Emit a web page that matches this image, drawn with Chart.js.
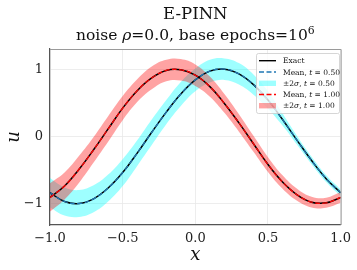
<!DOCTYPE html>
<html>
<head>
<meta charset="utf-8">
<script src="https://cdn.jsdelivr.net/npm/chart.js@4.4.0/dist/chart.umd.min.js"></script>
<style>
  html, body { margin: 0; padding: 0; background: #fff; }
</style>
</head>
<body>
<canvas id="c" width="357" height="270"></canvas>
<script>
// values
const xs = [-1.0, -0.9, -0.8, -0.7, -0.6, -0.5, -0.4, -0.3, -0.2, -0.1, 0.0,
            0.1, 0.2, 0.3, 0.4, 0.5, 0.6, 0.7, 0.8, 0.9, 1.0];
const exactT05 = [-0.84, -0.97, -1.00, -0.93, -0.77, -0.54, -0.25, 0.06, 0.36, 0.63, 0.84,
                  0.97, 1.00, 0.93, 0.77, 0.54, 0.25, -0.06, -0.36, -0.63, -0.84];
const exactT10 = [-0.91, -0.74, -0.49, -0.20, 0.11, 0.42, 0.68, 0.87, 0.98, 0.99, 0.91,
                  0.74, 0.49, 0.20, -0.11, -0.42, -0.68, -0.87, -0.98, -0.99, -0.91];
// predicted means sit right on the exact curves
const meanT05 = exactT05.slice();
const meanT10 = exactT10.slice();
// half width of the +-2 sigma bands
const twoSigmaT05 = [0.22, 0.21, 0.20, 0.20, 0.20, 0.20, 0.19, 0.19, 0.18, 0.18, 0.17,
                     0.17, 0.16, 0.16, 0.15, 0.13, 0.09, 0.065, 0.055, 0.05, 0.05];
const twoSigmaT10 = [0.21, 0.20, 0.20, 0.19, 0.19, 0.18, 0.17, 0.17, 0.16, 0.16, 0.16,
                     0.15, 0.14, 0.13, 0.12, 0.11, 0.10, 0.09, 0.08, 0.075, 0.08];
const xTicks = [-1, -0.5, 0, 0.5, 1];
const yTicks = [-1, 0, 1];

const SERIF = '"DejaVu Serif", "Liberation Serif", serif';
const CYAN_FILL = 'rgba(0,255,255,0.38)';
const RED_FILL = 'rgba(255,0,0,0.36)';
const BLUE = '#1f77b4';

const pts = (ys) => xs.map((x, i) => ({ x: x, y: ys[i] }));
const band = (m, s, sign) => xs.map((x, i) => ({ x: x, y: m[i] + sign * s[i] }));
const minus = (s) => s.replace('-', '\u2212');

const base = { pointRadius: 0, tension: 0.4, fill: false };

const datasets = [
  Object.assign({}, base, { label: 'lo05', data: band(meanT05, twoSigmaT05, -1), borderWidth: 0, borderColor: 'transparent', order: 10 }),
  Object.assign({}, base, { label: 'hi05', data: band(meanT05, twoSigmaT05, 1), borderWidth: 0, borderColor: 'transparent', backgroundColor: CYAN_FILL, fill: '-1', order: 9 }),
  Object.assign({}, base, { label: 'lo10', data: band(meanT10, twoSigmaT10, -1), borderWidth: 0, borderColor: 'transparent', order: 8 }),
  Object.assign({}, base, { label: 'hi10', data: band(meanT10, twoSigmaT10, 1), borderWidth: 0, borderColor: 'transparent', backgroundColor: RED_FILL, fill: '-1', order: 7 }),
  Object.assign({}, base, { label: 'ex05', data: pts(exactT05), borderColor: '#000', borderWidth: 1.5, order: 6 }),
  Object.assign({}, base, { label: 'ex10', data: pts(exactT10), borderColor: '#000', borderWidth: 1.5, order: 5 }),
  Object.assign({}, base, { label: 'mean05', data: pts(meanT05), borderColor: BLUE, borderWidth: 1.3, borderDash: [5, 2.5], order: 4 }),
  Object.assign({}, base, { label: 'mean10', data: pts(meanT10), borderColor: 'red', borderWidth: 1.3, borderDash: [5, 2.5], order: 3 })
];

// draws a run of [text, italic, sizeScale, dy] pieces
function richText(ctx, parts, x, y, size, align) {
  let total = 0;
  parts.forEach(p => {
    ctx.font = (p[1] ? 'italic ' : '') + (size * (p[2] || 1)) + 'px ' + SERIF;
    total += ctx.measureText(p[0]).width;
  });
  let cx = align === 'center' ? x - total / 2 : x;
  parts.forEach(p => {
    ctx.font = (p[1] ? 'italic ' : '') + (size * (p[2] || 1)) + 'px ' + SERIF;
    ctx.fillText(p[0], cx, y + (p[3] || 0));
    cx += ctx.measureText(p[0]).width;
  });
}

const decor = {
  id: 'decor',
  afterDraw(chart) {
    const ctx = chart.ctx;
    const a = chart.chartArea;
    const cx = (a.left + a.right) / 2;
    ctx.save();
    // top + right spines
    ctx.strokeStyle = '#9a9a9a';
    ctx.lineWidth = 1;
    ctx.beginPath();
    ctx.moveTo(a.left, a.top + 0.5);
    ctx.lineTo(a.right + 0.5, a.top + 0.5);
    ctx.lineTo(a.right + 0.5, a.bottom);
    ctx.stroke();

    ctx.fillStyle = '#111';
    ctx.textAlign = 'left';
    ctx.textBaseline = 'alphabetic';
    richText(ctx, [['E-PINN']], cx, 18.5, 16.5, 'center');
    richText(ctx, [['noise '], ['\u03c1', true], ['=0.0, base epochs=10'], ['6', false, 0.7, -6]], cx, 39.5, 15.5, 'center');

    // axis labels
    ctx.font = 'italic 18px ' + SERIF;
    ctx.textAlign = 'center';
    ctx.fillText('x', cx, 260);
    ctx.save();
    ctx.translate(19, (a.top + a.bottom) / 2);
    ctx.rotate(-Math.PI / 2);
    ctx.fillText('u', 0, 0);
    ctx.restore();

    // legend
    const lx = 256.5, ly = 53.5, lw = 83, lh = 60;
    ctx.fillStyle = 'rgba(255,255,255,0.8)';
    ctx.strokeStyle = '#cccccc';
    ctx.lineWidth = 0.8;
    ctx.beginPath();
    ctx.roundRect(lx, ly, lw, lh, 2);
    ctx.fill();
    ctx.stroke();

    const rows = [60.7, 72, 83.3, 94.5, 105.7];
    const h0 = 259, h1 = 276, tx = 283;
    const line = (y, color, dash) => {
      ctx.strokeStyle = color;
      ctx.lineWidth = 1.4;
      ctx.setLineDash(dash);
      ctx.beginPath();
      ctx.moveTo(h0, y);
      ctx.lineTo(h1, y);
      ctx.stroke();
      ctx.setLineDash([]);
    };
    const patch = (y, color) => {
      ctx.fillStyle = color;
      ctx.fillRect(h0, y - 2.7, h1 - h0, 5.4);
    };
    line(rows[0], '#000', []);
    line(rows[1], BLUE, [5, 2.5]);
    patch(rows[2], CYAN_FILL);
    line(rows[3], 'red', [5, 2.5]);
    patch(rows[4], RED_FILL);

    ctx.fillStyle = '#111';
    ctx.textAlign = 'left';
    const fs = 7.5;
    richText(ctx, [['Exact']], tx, rows[0] + 2.6, fs);
    richText(ctx, [['Mean, '], ['t', true], [' = 0.50']], tx, rows[1] + 2.6, fs);
    richText(ctx, [['\u00b12'], ['\u03c3', true], [', '], ['t', true], [' = 0.50']], tx, rows[2] + 2.6, fs);
    richText(ctx, [['Mean, '], ['t', true], [' = 1.00']], tx, rows[3] + 2.6, fs);
    richText(ctx, [['\u00b12'], ['\u03c3', true], [', '], ['t', true], [' = 1.00']], tx, rows[4] + 2.6, fs);
    ctx.restore();
  }
};

new Chart(document.getElementById('c'), {
  type: 'line',
  data: { datasets: datasets },
  options: {
    responsive: false,
    animation: false,
    events: [],
    layout: { padding: { top: 49, right: 15, left: 0, bottom: 0 } },
    plugins: { legend: { display: false }, tooltip: { enabled: false }, title: { display: false } },
    scales: {
      x: {
        type: 'linear',
        min: -1, max: 1,
        afterBuildTicks: (s) => { s.ticks = xTicks.map(v => ({ value: v })); },
        afterFit: (s) => { s.height = 45; },
        grid: { color: '#e8e8e8', lineWidth: 0.8, drawTicks: false },
        border: { color: '#555', width: 1.2 },
        ticks: {
          padding: 6,
          color: '#222',
          font: { family: SERIF, size: 13 },
          callback: (v) => minus(Number(v).toFixed(1))
        }
      },
      y: {
        type: 'linear',
        min: -1.32, max: 1.30,
        afterBuildTicks: (s) => { s.ticks = yTicks.map(v => ({ value: v })); },
        afterFit: (s) => { s.width = 50; },
        grid: { color: '#e8e8e8', lineWidth: 0.8, drawTicks: false },
        border: { color: '#555', width: 1.2 },
        ticks: {
          padding: 7,
          color: '#222',
          font: { family: SERIF, size: 13 },
          callback: (v) => minus(String(v))
        }
      }
    }
  },
  plugins: [decor]
});
</script>
</body>
</html>
